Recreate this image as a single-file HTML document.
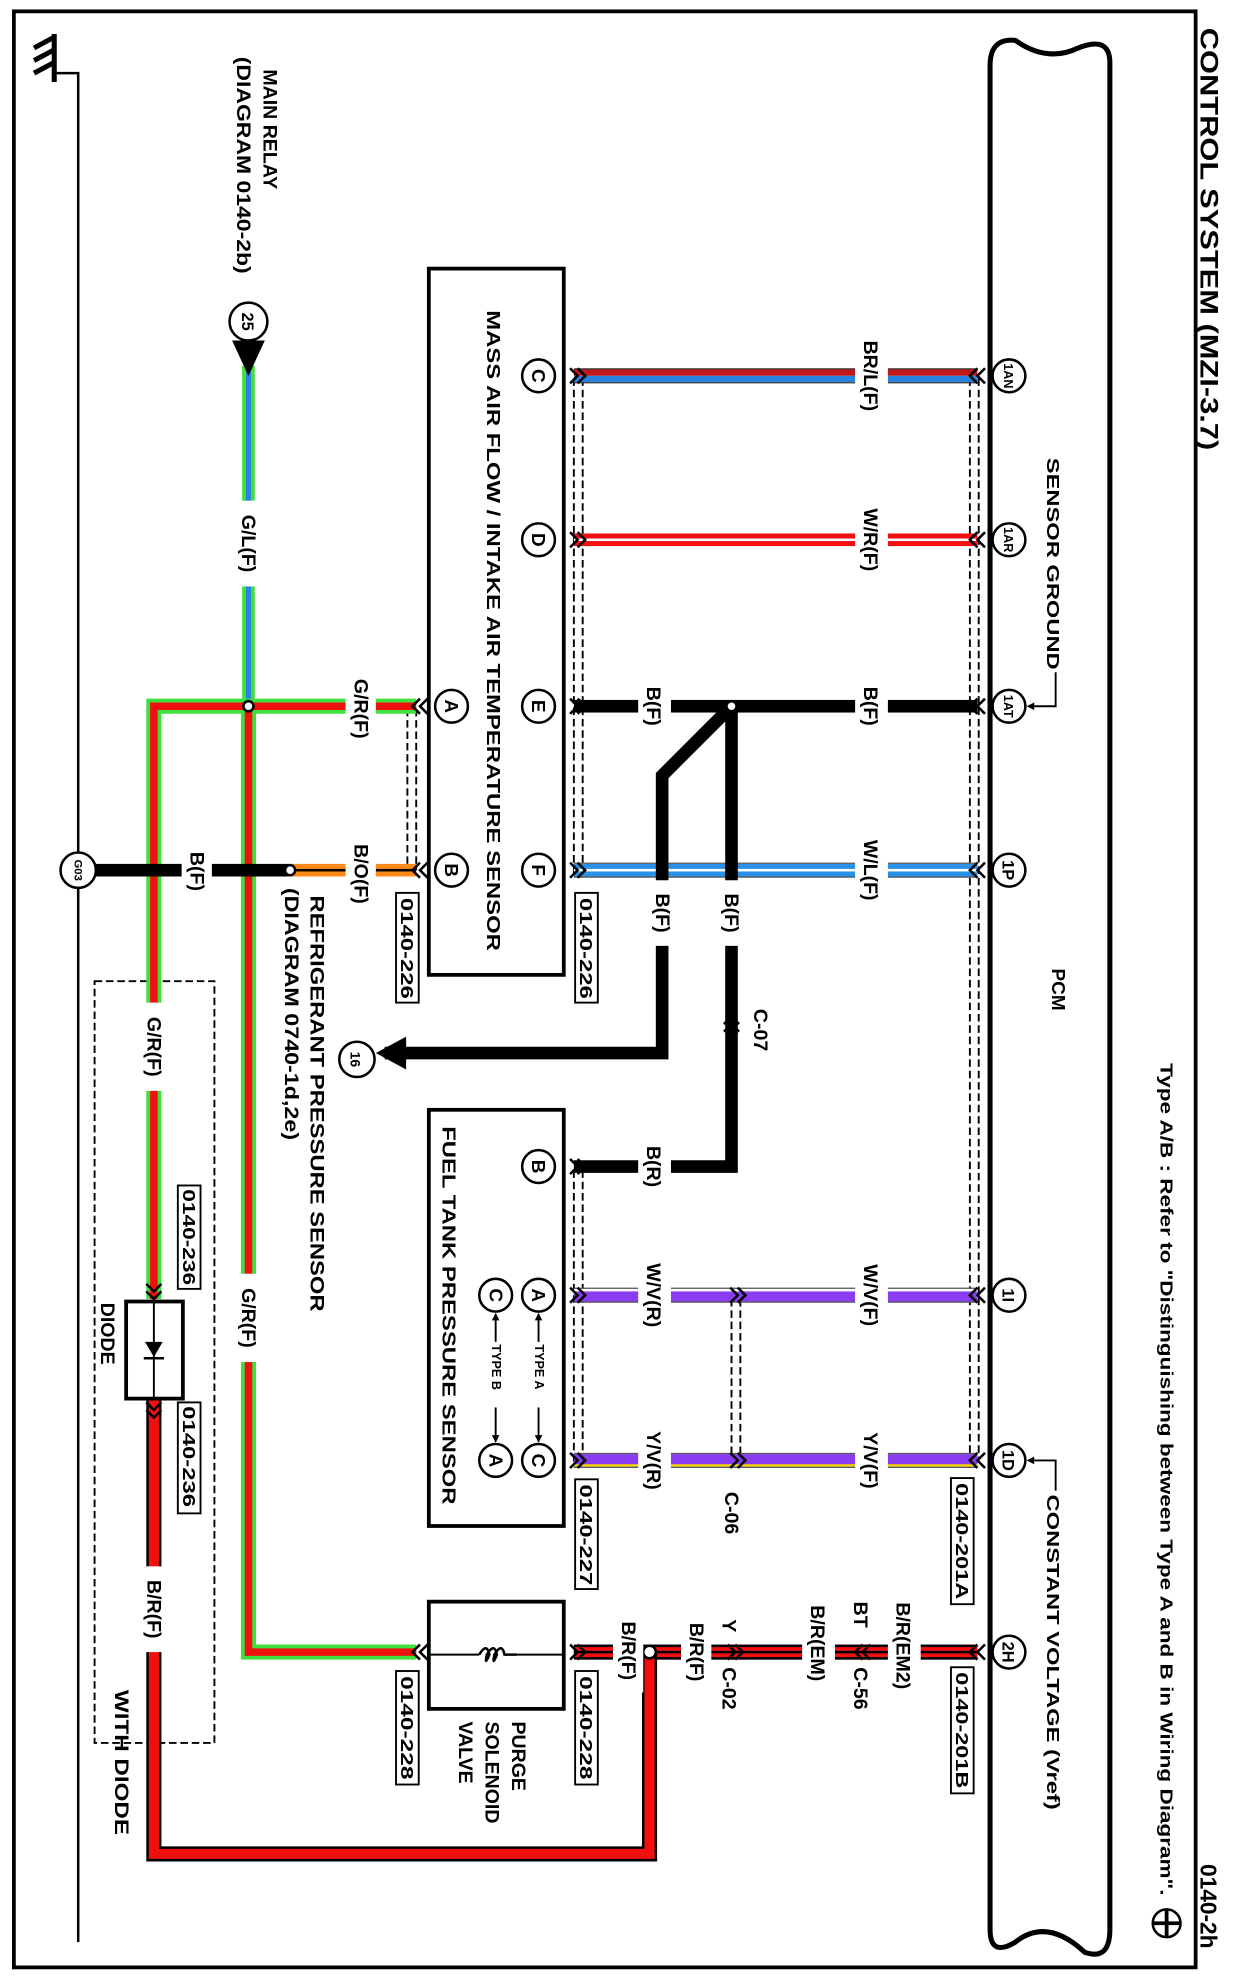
<!DOCTYPE html>
<html><head><meta charset="utf-8"><style>
html,body{margin:0;padding:0;background:#fff;}
svg{display:block;}
text{font-family:"Liberation Sans",Arial,sans-serif;fill:#000;font-weight:bold;}
.l{font-size:15.5px;}
.s{font-size:11px;}
</style></head><body>
<svg width="1236" height="1980" viewBox="0 0 980 1570" preserveAspectRatio="none" xmlns="http://www.w3.org/2000/svg">
<rect x="0" y="0" width="980" height="1570" fill="#fff"/>
<rect x="11" y="9" width="937" height="1551" fill="none" stroke="#000" stroke-width="3"/>
<text transform="translate(952,22) rotate(90)" font-size="20" textLength="335" lengthAdjust="spacingAndGlyphs">CONTROL SYSTEM (MZI-3.7)</text>
<text transform="translate(952,1478) rotate(90)" font-size="18">0140-2h</text>
<circle cx="925" cy="1525" r="11" fill="#fff" stroke="#000" stroke-width="2"/>
<path d="M914,1525 H936 M925,1514 V1536" stroke="#000" stroke-width="3"/>
<text transform="translate(920,843) rotate(90)" font-size="14" textLength="660" lengthAdjust="spacingAndGlyphs">Type A/B : Refer to "Distinguishing between Type A and B in Wiring Diagram".</text>

<path d="M785,1530 V52 Q785,30 805,32 Q830,50 855,38 Q880,28 880,50 V1530 Q880,1555 860,1548 Q830,1520 805,1540 Q785,1552 785,1530" fill="none" stroke="#000" stroke-width="4"/>
<text transform="translate(834,768) rotate(90)" font-size="15">PCM</text>
<text transform="translate(830,363) rotate(90)" font-size="14" textLength="168" lengthAdjust="spacingAndGlyphs">SENSOR GROUND</text>
<path d="M837,533 V560 H820" fill="none" stroke="#000" stroke-width="1.5"/>
<path d="M814,560 l6,-3 v6z" fill="#000"/>
<text transform="translate(830,1185) rotate(90)" font-size="14" textLength="250" lengthAdjust="spacingAndGlyphs">CONSTANT VOLTAGE (Vref)</text>
<path d="M837,1182 V1158 H820" fill="none" stroke="#000" stroke-width="1.5"/>
<path d="M814,1158 l6,-3 v6z" fill="#000"/>

<path d="M62,1540 V58 H42" fill="none" stroke="#000" stroke-width="2"/>
<path d="M27,38 L42,30 M27,48 L42,40 M27,58 L42,50 M43,27 V65" stroke="#000" stroke-width="4" fill="none"/>

<g stroke="#000" stroke-width="1.5" stroke-dasharray="6,3" fill="none">
<path d="M455,300 V695 M462,300 V695"/>
<path d="M769,300 V1160 M776,300 V1160"/>
<path d="M455,928 V1162 M462,928 V1162"/>
<path d="M323,562 V690 M330,562 V690"/>
<path d="M580,1030 V1156 M587,1030 V1156"/>
<rect x="75" y="778" width="95" height="604"/>
</g>

<rect x="455" y="293" width="320" height="5" fill="#c01818"/><rect x="455" y="298" width="320" height="5" fill="#2a82e0"/>
<path d="M455,292.5 H775 M455,303.5 H775" stroke="#333" stroke-width="1"/>
<rect x="455" y="423" width="320" height="10" fill="#f01010"/><rect x="455" y="427" width="320" height="2" fill="#fff"/>
<rect x="455" y="555" width="320" height="10" fill="#000"/>
<rect x="455" y="685" width="320" height="10" fill="#2a90e8"/><rect x="455" y="689" width="320" height="2" fill="#fff"/>
<path d="M455,684.5 H775 M455,695.5 H775" stroke="#555" stroke-width="1"/>
<rect x="455" y="1022" width="320" height="10" fill="#8a3cf0"/><rect x="455" y="1022" width="320" height="2" fill="#fff"/>
<path d="M455,1021.5 H775 M455,1032.5 H775" stroke="#555" stroke-width="1"/>
<rect x="455" y="1153" width="320" height="10" fill="#8a3cf0"/><rect x="455" y="1161" width="320" height="2" fill="#f0d000"/>
<path d="M455,1152.5 H775 M455,1163.5 H775" stroke="#555" stroke-width="1"/>
<rect x="455" y="1304" width="320" height="12" fill="#000"/><rect x="455" y="1306" width="320" height="8" fill="#f01010"/><rect x="455" y="1309" width="320" height="2" fill="#000"/>

<g stroke="#000" stroke-width="10" fill="none" stroke-linejoin="miter">
<path d="M580,560 V925 H455"/>
<path d="M580,560 L525,615 V835 H305"/>
</g>
<path d="M322,822 L298,835 L322,848 Z" fill="#000"/>
<circle cx="283" cy="840" r="14" fill="#fff" stroke="#000" stroke-width="2"/>
<text transform="translate(278,840) rotate(90)" class="s" text-anchor="middle">16</text>
<circle cx="580" cy="560" r="4" fill="#fff" stroke="#000" stroke-width="2"/>

<rect x="192" y="290" width="10" height="270" fill="#3ee03e"/><rect x="195" y="290" width="4" height="270" fill="#2a82e0"/>
<path d="M184,270 L210,270 L197,298 Z" fill="#000"/>
<circle cx="197" cy="255" r="15" fill="#fff" stroke="#000" stroke-width="2"/>
<text transform="translate(192,255) rotate(90)" font-size="13" text-anchor="middle">25</text>
<g fill="none" stroke-linejoin="miter">
<path d="M330,560 H122 V1030 M197,560 V1310 H330" stroke="#3ee03e" stroke-width="12"/>
<path d="M330,560 H122 V1030 M197,560 V1310 H330" stroke="#f01010" stroke-width="6"/>
</g>
<circle cx="197" cy="560" r="4" fill="#fff" stroke="#000" stroke-width="2"/>
<g fill="none" stroke-linejoin="miter">
<path d="M122,1110 V1470 H515 V1310" stroke="#000" stroke-width="12"/>
<path d="M122,1110 V1470 H515 V1310" stroke="#f01010" stroke-width="8"/>
</g>
<circle cx="515" cy="1310" r="5" fill="#fff" stroke="#000" stroke-width="2"/>
<rect x="62" y="685" width="168" height="10" fill="#000"/>
<rect x="230" y="685" width="100" height="10" fill="#ff8a1a"/><rect x="230" y="689" width="100" height="2" fill="#000"/>
<circle cx="230" cy="690" r="4" fill="#fff" stroke="#000" stroke-width="2"/>
<circle cx="62" cy="690" r="14" fill="#fff" stroke="#000" stroke-width="2"/>
<text transform="translate(59,690) rotate(90)" font-size="9" text-anchor="middle">G03</text>

<rect x="100" y="1032" width="45" height="77" fill="#fff" stroke="#000" stroke-width="3"/>
<path d="M122,1032 V1109" stroke="#000" stroke-width="1.5"/>
<path d="M115,1064 H129 L122,1076 Z" fill="#000"/><path d="M114,1077 H130" stroke="#000" stroke-width="2"/>
<text transform="translate(80,1033) rotate(90)" class="l">DIODE</text>
<text transform="translate(91,1340) rotate(90)" class="l" textLength="115" lengthAdjust="spacingAndGlyphs">WITH DIODE</text>

<rect x="340" y="213" width="107" height="560" fill="#fff" stroke="#000" stroke-width="3"/>
<text transform="translate(386,246) rotate(90)" font-size="15" textLength="508" lengthAdjust="spacingAndGlyphs">MASS AIR FLOW / INTAKE AIR TEMPERATURE SENSOR</text>
<rect x="340" y="880" width="107" height="330" fill="#fff" stroke="#000" stroke-width="3"/>
<text transform="translate(351,893) rotate(90)" font-size="15" textLength="300" lengthAdjust="spacingAndGlyphs">FUEL TANK PRESSURE SENSOR</text>
<rect x="340" y="1270" width="107" height="85" fill="#fff" stroke="#000" stroke-width="3"/>
<path d="M340,1312 H380 M410,1312 H447" stroke="#000" stroke-width="1.5"/>
<path d="M380,1312 q6,-10 8,0 q-4,10 -2,0 q6,-10 8,0 q-4,10 -2,0 q6,-10 8,0 q2,0 10,0" fill="none" stroke="#000" stroke-width="2"/>
<text transform="translate(406,1365) rotate(90)" class="l">PURGE</text>
<text transform="translate(385,1365) rotate(90)" class="l">SOLENOID</text>
<text transform="translate(364,1365) rotate(90)" class="l">VALVE</text>

<g fill="none" stroke="#000" stroke-width="2">
<path d="M775,292 l-6,6 6,6 M781,292 l-6,6 6,6 M775,422 l-6,6 6,6 M781,422 l-6,6 6,6 M775,554 l-6,6 6,6 M781,554 l-6,6 6,6 M775,684 l-6,6 6,6 M781,684 l-6,6 6,6 M775,1021 l-6,6 6,6 M781,1021 l-6,6 6,6 M775,1152 l-6,6 6,6 M781,1152 l-6,6 6,6 M775,1304 l-6,6 6,6 M781,1304 l-6,6 6,6"/>
<path d="M452,292 l6,6 -6,6 M458,292 l6,6 -6,6 M452,422 l6,6 -6,6 M458,422 l6,6 -6,6 M452,554 l6,6 -6,6 M458,554 l6,6 -6,6 M452,684 l6,6 -6,6 M458,684 l6,6 -6,6 M452,919 l6,6 -6,6 M458,919 l6,6 -6,6 M452,1021 l6,6 -6,6 M458,1021 l6,6 -6,6 M452,1152 l6,6 -6,6 M458,1152 l6,6 -6,6 M452,1304 l6,6 -6,6 M458,1304 l6,6 -6,6"/>
<path d="M333,554 l-6,6 6,6 M339,554 l-6,6 6,6 M333,684 l-6,6 6,6 M339,684 l-6,6 6,6 M333,1304 l-6,6 6,6 M339,1304 l-6,6 6,6"/>
<path d="M579,1021 l6,6 -6,6 M585,1021 l6,6 -6,6 M579,1152 l6,6 -6,6 M585,1152 l6,6 -6,6 M577,1304 l6,6 -6,6 M583,1304 l6,6 -6,6 M684,1304 l-6,6 6,6 M690,1304 l-6,6 6,6"/>
<path d="M574,812 l6,-6 6,6 M574,818 l6,-6 6,6"/>
<path d="M116,1018 l6,6 6,-6 M116,1024 l6,6 6,-6 M116,1112 l6,6 6,-6 M116,1118 l6,6 6,-6"/>
</g>

<g fill="#fff" stroke="#000" stroke-width="2">
<circle cx="800" cy="298" r="13"/><circle cx="800" cy="428" r="13"/><circle cx="800" cy="560" r="13"/><circle cx="800" cy="690" r="13"/><circle cx="800" cy="1027" r="13"/><circle cx="800" cy="1158" r="13"/><circle cx="800" cy="1310" r="13"/>
<circle cx="427" cy="298" r="13"/><circle cx="427" cy="428" r="13"/><circle cx="427" cy="560" r="13"/><circle cx="427" cy="690" r="13"/>
<circle cx="358" cy="560" r="13"/><circle cx="358" cy="690" r="13"/>
<circle cx="427" cy="925" r="13"/><circle cx="427" cy="1027" r="13"/><circle cx="427" cy="1158" r="13"/>
<circle cx="393" cy="1027" r="13"/><circle cx="393" cy="1158" r="13"/>
</g>
<g font-size="10" text-anchor="middle">
<text transform="translate(796,298) rotate(90)">1AN</text><text transform="translate(796,428) rotate(90)">1AR</text><text transform="translate(796,560) rotate(90)">1AT</text><text transform="translate(795,690) rotate(90)" font-size="13">1P</text><text transform="translate(795,1027) rotate(90)" font-size="13">1I</text><text transform="translate(795,1158) rotate(90)" font-size="13">1D</text><text transform="translate(795,1310) rotate(90)" font-size="13">2H</text>
</g>
<g font-size="15" text-anchor="middle">
<text transform="translate(422,298) rotate(90)">C</text><text transform="translate(422,428) rotate(90)">D</text><text transform="translate(422,560) rotate(90)">E</text><text transform="translate(422,690) rotate(90)">F</text>
<text transform="translate(353,560) rotate(90)">A</text><text transform="translate(353,690) rotate(90)">B</text>
<text transform="translate(422,925) rotate(90)">B</text><text transform="translate(422,1027) rotate(90)">A</text><text transform="translate(422,1158) rotate(90)">C</text>
<text transform="translate(388,1027) rotate(90)">C</text><text transform="translate(388,1158) rotate(90)">A</text>
</g>
<path d="M427,1042 V1143 M393,1042 V1143" stroke="#000" stroke-width="1.5"/>
<g fill="#000"><path d="M427,1041 l-3,6 h6z M427,1144 l-3,-6 h6z M393,1041 l-3,6 h6z M393,1144 l-3,-6 h6z"/></g>
<rect x="420" y="1064" width="14" height="52" fill="#fff"/><rect x="386" y="1064" width="14" height="52" fill="#fff"/>
<text transform="translate(424,1066) rotate(90)" font-size="10">TYPE A</text>
<text transform="translate(390,1066) rotate(90)" font-size="10">TYPE B</text>

<g fill="#fff" stroke="#000" stroke-width="1.5">
<rect x="456" y="708" width="18" height="87"/><rect x="314" y="708" width="18" height="87"/>
<rect x="456" y="1173" width="18" height="87"/><rect x="754" y="1172" width="18" height="100"/>
<rect x="754" y="1322" width="18" height="100"/><rect x="456" y="1325" width="18" height="90"/>
<rect x="314" y="1325" width="18" height="90"/><rect x="141" y="940" width="18" height="82"/><rect x="141" y="1112" width="18" height="88"/>
</g>
<g font-size="14">
<text transform="translate(460,712) rotate(90)" textLength="80" lengthAdjust="spacingAndGlyphs">0140-226</text><text transform="translate(318,712) rotate(90)" textLength="80" lengthAdjust="spacingAndGlyphs">0140-226</text>
<text transform="translate(460,1177) rotate(90)" textLength="80" lengthAdjust="spacingAndGlyphs">0140-227</text><text transform="translate(758,1176) rotate(90)" textLength="92" lengthAdjust="spacingAndGlyphs">0140-201A</text>
<text transform="translate(758,1326) rotate(90)" textLength="92" lengthAdjust="spacingAndGlyphs">0140-201B</text><text transform="translate(460,1329) rotate(90)" textLength="82" lengthAdjust="spacingAndGlyphs">0140-228</text>
<text transform="translate(318,1329) rotate(90)" textLength="82" lengthAdjust="spacingAndGlyphs">0140-228</text><text transform="translate(145,943) rotate(90)" textLength="76" lengthAdjust="spacingAndGlyphs">0140-236</text>
<text transform="translate(145,1115) rotate(90)" textLength="80" lengthAdjust="spacingAndGlyphs">0140-236</text>
</g>

<g fill="#fff">
<rect x="678" y="260" width="26" height="76"/><rect x="678" y="393" width="26" height="70"/><rect x="678" y="538" width="26" height="44"/><rect x="678" y="657" width="26" height="66"/><rect x="678" y="992" width="26" height="70"/><rect x="678" y="1124" width="26" height="68"/>
<rect x="506" y="538" width="26" height="44"/><rect x="506" y="903" width="26" height="44"/><rect x="506" y="992" width="26" height="70"/><rect x="506" y="1124" width="26" height="68"/>
<rect x="512" y="698" width="26" height="52"/><rect x="567" y="698" width="26" height="52"/>
<rect x="704" y="1268" width="26" height="76"/><rect x="636" y="1266" width="26" height="74"/><rect x="540" y="1278" width="24" height="64"/><rect x="486" y="1276" width="24" height="66"/>
<rect x="274" y="537" width="24" height="50"/><rect x="274" y="665" width="24" height="56"/><rect x="144" y="668" width="24" height="46"/>
<rect x="184" y="397" width="26" height="68"/><rect x="109" y="795" width="26" height="70"/><rect x="184" y="1010" width="26" height="70"/><rect x="109" y="1242" width="26" height="68"/>
</g>
<g class="l" text-anchor="middle">
<text transform="translate(685,298) rotate(90)">BR/L(F)</text><text transform="translate(685,428) rotate(90)">W/R(F)</text><text transform="translate(685,560) rotate(90)">B(F)</text><text transform="translate(685,690) rotate(90)">W/L(F)</text><text transform="translate(685,1027) rotate(90)">W/V(F)</text><text transform="translate(685,1158) rotate(90)">Y/V(F)</text>
<text transform="translate(513,560) rotate(90)">B(F)</text><text transform="translate(513,925) rotate(90)">B(R)</text><text transform="translate(513,1027) rotate(90)">W/V(R)</text><text transform="translate(513,1158) rotate(90)">Y/V(R)</text>
<text transform="translate(520,724) rotate(90)">B(F)</text><text transform="translate(575,724) rotate(90)">B(F)</text>
<text transform="translate(711,1305) rotate(90)">B/R(EM2)</text><text transform="translate(643,1303) rotate(90)">B/R(EM)</text><text transform="translate(547,1310) rotate(90)">B/R(F)</text><text transform="translate(493,1309) rotate(90)">B/R(F)</text>
<text transform="translate(281,562) rotate(90)">G/R(F)</text><text transform="translate(281,693) rotate(90)">B/O(F)</text><text transform="translate(151,691) rotate(90)">B(F)</text>
<text transform="translate(192,431) rotate(90)">G/L(F)</text><text transform="translate(117,830) rotate(90)">G/R(F)</text><text transform="translate(192,1045) rotate(90)">G/R(F)</text><text transform="translate(117,1276) rotate(90)">B/R(F)</text>
</g>
<g class="l">
<text transform="translate(598,800) rotate(90)">C-07</text>
<text transform="translate(575,1183) rotate(90)">C-06</text>
<text transform="translate(677,1270) rotate(90)">BT</text>
<text transform="translate(677,1322) rotate(90)">C-56</text>
<text transform="translate(573,1284) rotate(90)">Y</text>
<text transform="translate(573,1322) rotate(90)">C-02</text>
<text transform="translate(209,55) rotate(90)">MAIN RELAY</text>
<text transform="translate(188,45) rotate(90)" textLength="172" lengthAdjust="spacingAndGlyphs">(DIAGRAM 0140-2b)</text>
<text transform="translate(246,710) rotate(90)" textLength="330" lengthAdjust="spacingAndGlyphs">REFRIGERANT PRESSURE SENSOR</text>
<text transform="translate(226,704) rotate(90)" textLength="200" lengthAdjust="spacingAndGlyphs">(DIAGRAM 0740-1d,2e)</text>
</g>
</svg>
</body></html>
